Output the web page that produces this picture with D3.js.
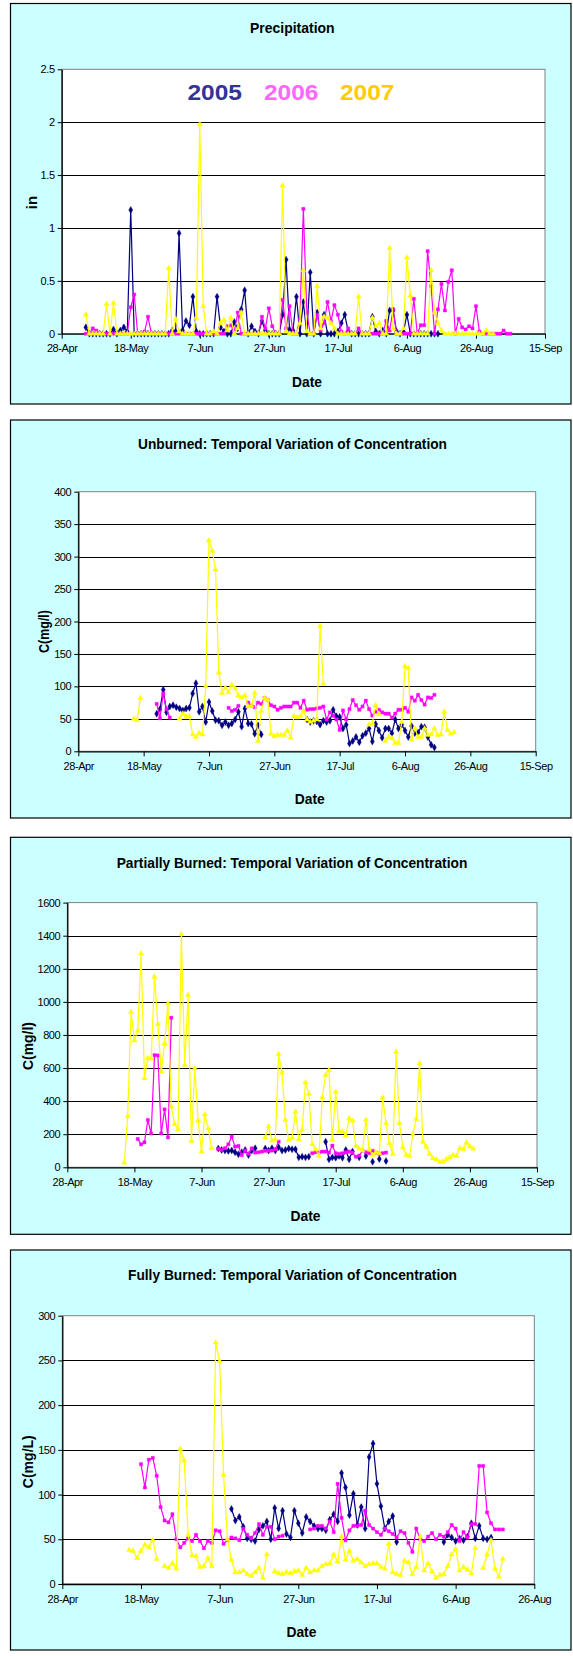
<!DOCTYPE html>
<html><head><meta charset="utf-8">
<script src="https://cdn.jsdelivr.net/npm/d3@7/dist/d3.min.js"></script>
<style>
html,body{margin:0;padding:0;background:#fff;}
svg{display:block;}
text{font-family:"Liberation Sans",Arial,sans-serif;}
</style></head>
<body><svg id="c" width="573" height="1656"></svg>
<script>
// ---------------- DATA ----------------
const YEAR = 2007; // reference year for the month/day axis
const xTickLabels = ["28-Apr","18-May","7-Jun","27-Jun","17-Jul","6-Aug","26-Aug","15-Sep"];
const xTickLabelsFull = ["28-Apr","18-May","7-Jun","27-Jun","17-Jul","6-Aug","26-Aug"];
const seriesNames = ["2005","2006","2007"];

// Precipitation (in), daily
const precipYTicks = [0,0.5,1,1.5,2,2.5];
const precip2005Start = "5-May";
const precip2005 = [
 .06,0,0,0,0,0,0,0,.04,0,
 .03,.06,.02,1.17,0,0,0,0,0,0,
 0,0,0,0,0,.03,.02,.95,.03,.12,
 .08,.35,.02,0,0,0,0,0,.35,.06,
 .02,0,0,.11,.05,.23,.41,0,.07,.02,
 0,.12,.03,0,0,0,0,.18,.70,.04,
 .03,.35,0,.30,0,.58,0,.20,0,.18,
 0,0,0,.02,.10,.18,.02,0,0,0,
 0,0,0,.16,.02,0,.03,0,.22,.22,
 .02,0,.02,.18,0,0,0,0,0,0,
 0,0,0];
const precip2006Start = "5-May";
const precip2006 = [
 0,0,.05,.03,0,0,0,0,0,0,
 0,0,0,.25,.37,0,0,.02,.16,0,
 0,0,0,0,0,0,0,0,0,0,
 0,0,0,0,0,0,0,0,0,0,
 0,.07,.08,.02,.20,0,0,0,0,0,
 0,.16,.05,.24,.07,0,0,.32,.05,.26,
 0,0,.14,1.18,.20,0,0,.18,.03,.10,
 .30,.12,.27,.18,.02,0,.05,0,0,.05,
 0,0,0,0,0,0,0,.12,.03,.23,
 0,0,0,0,0,.33,0,.08,.08,.78,
 .45,0,.23,.47,.22,.49,.60,0,.14,.06,
 .04,.07,.05,.26,.02,0,0,0,0,0,
 0,.03,0,0];
const precip2007Start = "5-May";
const precip2007 = [
 .18,0,0,0,0,0,.28,0,.29,0,
 0,0,0,0,0,0,0,0,0,0,
 0,0,0,0,.62,0,.14,.02,0,0,
 0,0,.15,1.98,.26,0,0,.02,0,.10,
 .13,.03,.15,0,.05,.20,0,0,0,0,
 0,0,0,0,0,0,0,1.40,.02,0,
 0,0,.10,.60,.02,0,0,.45,.05,.16,
 .15,.10,.05,0,0,0,0,0,0,.35,
 0,0,0,.15,.07,.10,0,0,.81,.05,
 0,0,.05,.72,.36,0,0,0,0,0,
 .60,.20,.10,.03,0,0,0,0,0,0,
 0,0,0,0,0,0,.03,0,0];

// Unburned concentration (mg/l)
const unbYTicks = [0,50,100,150,200,250,300,350,400];
const unb2005Start = "22-May";
const unb2005 = [
 58,65,95,60,69,71,68,66,63,66,
 67,89,105,61,69,45,76,62,48,47,
 40,45,40,43,49,61,38,66,43,42,
 27,40,26,null,null,null,null,null,null,null,
 null,null,null,null,null,null,49,45,47,46,
 41,47,45,47,64,54,53,35,41,12,
 16,22,14,24,28,35,15,42,32,21,
 35,35,28,49,35,41,32,22,39,28,
 29,38,37,22,10,6];
const unb2006Start = "22-May";
const unb2006 = [
 73,51,89,65,52,null,null,null,null,null,
 null,null,null,null,null,null,null,null,null,null,
 null,null,67,62,64,70,null,null,75,70,
 68,75,73,82,79,71,69,64,67,69,
 69,69,75,75,67,78,64,65,65,66,
 67,69,49,60,55,49,33,63,49,65,
 79,71,64,69,78,65,55,61,64,60,
 58,58,52,58,64,64,67,61,83,78,
 87,79,72,83,82,87];
const unb2007Start = "15-May";
const unb2007 = [
 50,48,82,null,null,null,null,null,null,null,
 null,null,null,null,50,58,53,54,26,22,
 28,26,100,325,309,280,121,90,98,91,
 102,97,86,83,86,69,70,90,16,62,
 82,79,27,23,25,25,25,32,21,54,
 52,54,62,49,45,47,49,193,104,null,
 null,null,null,null,null,null,null,null,null,null,
 null,null,41,43,71,57,null,16,22,20,
 13,13,45,131,128,18,35,22,22,35,
 25,26,35,25,26,61,33,27,29];

// Partially burned concentration (mg/l)
const partYTicks = [0,200,400,600,800,1000,1200,1400,1600];
const part2005Start = "12-Jun";
const part2005 = [
 113,105,101,99,101,91,79,91,105,74,
 101,115,null,null,113,101,115,101,121,101,
 105,113,109,109,60,64,60,64,null,null,
 null,null,155,48,60,58,68,58,105,48,
 95,null,60,null,68,null,34,null,50,null,
 38];
const part2006Start = "19-May";
const part2006 = [
 171,139,151,286,205,678,676,205,350,181,
 904,null,null,null,null,null,null,null,null,null,
 null,null,null,null,111,105,115,139,185,125,
 129,74,101,81,115,89,91,95,100,100,
 101,109,155,null,null,null,null,null,null,null,
 null,null,85,91,91,95,95,89,131,85,
 81,85,91,95,89,64,70,101,91,85,
 99,89,81,85,89];
const part2007Start = "15-May";
const part2007 = [
 28,308,938,767,825,1292,537,660,656,1151,
 865,578,749,990,366,262,229,1409,618,1041,
 159,598,282,95,320,235,115,null,null,null,
 null,null,null,null,null,null,null,null,null,null,
 null,null,181,246,161,169,684,572,286,165,
 179,336,170,225,513,445,139,109,68,423,
 558,588,165,457,219,215,191,296,282,129,
 113,101,286,109,74,91,85,421,266,145,
 81,698,266,121,74,68,199,292,628,155,
 125,81,54,48,32,34,48,60,74,68,
 115,109,149,125,113];

// Fully burned concentration (mg/L)
const fullYTicks = [0,50,100,150,200,250,300];
const full2005Start = "10-Jun";
const full2005 = [
 84,71,75,64,51,50,48,61,65,70,
 50,85,62,82,56,52,82,68,57,75,
 70,65,62,62,60,72,78,70,124,108,
 77,101,66,86,62,142,157,112,87,62,
 70,76,47,null,null,null,null,null,null,null,
 null,null,null,null,47,55,52,48,51,49,
 53,68,51,65,51,50,52];
const full2006Start = "18-May";
const full2006 = [
 134,108,139,141,121,86,71,69,78,50,
 41,46,51,48,55,48,40,48,46,60,
 59,45,49,52,51,49,62,55,51,57,
 67,55,64,64,50,53,54,null,null,null,
 null,null,null,61,62,65,65,62,70,58,
 112,74,49,60,65,65,66,82,66,62,
 58,55,62,59,56,52,59,57,46,36,
 62,50,48,53,57,50,55,53,58,66,
 62,48,58,52,67,67,132,132,80,68,
 61,61,61];
const full2007Start = "15-May";
const full2007 = [
 38,37,29,37,44,41,49,28,null,20,
 18,23,17,151,138,55,32,31,19,20,
 29,20,270,249,122,50,27,13,13,15,
 11,9,13,18,7,33,null,14,12,11,
 13,12,14,15,10,18,13,15,15,20,
 22,23,33,25,53,27,37,26,28,24,
 20,22,23,23,19,17,45,13,11,10,
 26,24,11,19,53,15,23,14,7,10,
 11,20,33,39,15,19,16,12,40,null,
 18,33,49,17,8,28];

// ---------------- DRAWING ----------------
const parseDay = d3.timeParse("%d-%b-%Y");
const toDate = s => parseDay(s + "-" + YEAR);
const lineColors = ["#000080","#FF00FF","#FFFF00"];
const markerShapes = [d3.symbolDiamond, d3.symbolSquare, d3.symbolTriangle];
const markerSizes = [14, 10, 12];

function series(start, vals){
  const s = toDate(start);
  return vals.map((v,i)=>({date:d3.timeDay.offset(s,i), v:v}));
}

const svg = d3.select("#c");

function panel(cfg){
  const g = svg.append("g");
  const [fx0,fy0,fx1,fy1] = cfg.frame;
  g.append("rect").attr("x",fx0).attr("y",fy0).attr("width",fx1-fx0).attr("height",fy1-fy0)
    .attr("fill","#CCFFFF").attr("stroke","#000").attr("stroke-width",1.2);
  const [px0,py0,px1,py1] = cfg.plot;
  const x = d3.scaleTime().domain([toDate(cfg.xLabels[0]), toDate(cfg.xLabels[cfg.xLabels.length-1])]).range([px0,px1]);
  const y = d3.scaleLinear().domain([0, d3.max(cfg.yTicks)]).range([py1,py0]);
  g.append("rect").attr("x",px0).attr("y",py0).attr("width",px1-px0).attr("height",py1-py0)
    .attr("fill","#fff").attr("stroke","#808080").attr("stroke-width",1);
  // gridlines
  g.append("g").selectAll("line").data(cfg.yTicks.filter(t=>t>0 && t<d3.max(cfg.yTicks))).join("line")
    .attr("x1",px0).attr("x2",px1).attr("y1",d=>Math.round(y(d))+0.5).attr("y2",d=>Math.round(y(d))+0.5)
    .attr("stroke","#000").attr("stroke-width",1);
  // axes
  const yAxis = d3.axisLeft(y).tickValues(cfg.yTicks).tickSize(4).tickSizeOuter(0).tickPadding(3)
    .tickFormat(d3.format(cfg.yFmt));
  const ya = g.append("g").attr("transform",`translate(${px0},0)`).call(yAxis);
  const xAxis = d3.axisBottom(x).tickValues(cfg.xLabels.map(toDate)).tickSize(5).tickSizeOuter(0).tickPadding(6)
    .tickFormat((d,i)=>cfg.xLabels[i]);
  const xa = g.append("g").attr("transform",`translate(0,${py1})`).call(xAxis);
  [ya,xa].forEach(a=>{
    a.select(".domain").attr("stroke","#000").attr("stroke-width",1.3);
    a.selectAll(".tick line").attr("stroke","#000");
    a.selectAll(".tick text").attr("font-size",11).attr("fill","#000")
      .attr("font-family","Liberation Sans, Arial, sans-serif").attr("letter-spacing","-0.4px");
  });
  xa.selectAll(".tick text").attr("dy","0.71em");
  // series
  cfg.series.forEach((s,k)=>{
    const pts = series(s.start, s.values);
    const line = d3.line().defined(d=>d.v!=null).x(d=>x(d.date)).y(d=>y(d.v));
    g.append("path").datum(pts).attr("d",line).attr("fill","none")
      .attr("stroke",lineColors[k]).attr("stroke-width",1.2).attr("stroke-linejoin","round");
    g.append("g").selectAll("path").data(pts.filter(d=>d.v!=null)).join("path")
      .attr("transform",d=>`translate(${x(d.date)},${y(d.v)})`)
      .attr("d",d3.symbol().type(markerShapes[k]).size(markerSizes[k])())
      .attr("fill",lineColors[k]).attr("stroke",lineColors[k]).attr("stroke-width",0.4);
  });
  // titles
  g.append("text").attr("x",cfg.titleX).attr("y",cfg.titleY).attr("text-anchor","middle")
    .attr("font-size",15).attr("font-weight","bold").attr("textLength",cfg.titleW)
    .attr("lengthAdjust","spacingAndGlyphs").text(cfg.title);
  g.append("text").attr("x",cfg.dateX).attr("y",cfg.dateY).attr("text-anchor","middle")
    .attr("font-size",15.5).attr("font-weight","bold").attr("textLength",30)
    .attr("lengthAdjust","spacingAndGlyphs").text("Date");
  const yl = g.append("text").attr("transform",`translate(${cfg.yLabX},${cfg.yLabY}) rotate(-90)`)
    .attr("text-anchor","middle").attr("font-size",15).attr("font-weight","bold").text(cfg.yLabel);
  if(cfg.yLabW) yl.attr("textLength",cfg.yLabW).attr("lengthAdjust","spacingAndGlyphs");
  return g;
}

const p1 = panel({frame:[10.5,3.5,571,404], plot:[61.7,69.3,545,333.7], xLabels:xTickLabels,
  yTicks:precipYTicks, yFmt:"~g", title:"Precipitation", titleX:292.3, titleY:32.7, titleW:84.6,
  dateX:307, dateY:386.7, yLabel:"in", yLabX:36.5, yLabY:202.5, yLabW:null,
  series:[{start:precip2005Start,values:precip2005},{start:precip2006Start,values:precip2006},{start:precip2007Start,values:precip2007}]});

// legend text (years) in precipitation chart
const legendColors = ["#333399","#FF66FF","#FFCC00"];
const legendX = [187.5,264,340];
seriesNames.forEach((n,i)=>{
  p1.append("text").attr("x",legendX[i]).attr("y",100).attr("font-family","DejaVu Sans, Verdana, sans-serif")
    .attr("font-weight","bold").attr("font-size",22).attr("fill",legendColors[i])
    .attr("textLength",54.5).attr("lengthAdjust","spacingAndGlyphs").text(n);
});

panel({frame:[10.5,420,571,818], plot:[78.3,491.7,535.7,751.3], xLabels:xTickLabels,
  yTicks:unbYTicks, yFmt:"d", title:"Unburned: Temporal Variation of Concentration", titleX:292.5, titleY:449.3, titleW:309,
  dateX:309.8, dateY:804, yLabel:"C(mg/l)", yLabX:48.5, yLabY:631.5, yLabW:43,
  series:[{start:unb2005Start,values:unb2005},{start:unb2006Start,values:unb2006},{start:unb2007Start,values:unb2007}]});

panel({frame:[10.5,837.3,571,1234.3], plot:[67.3,902.6,537,1167.3], xLabels:xTickLabels,
  yTicks:partYTicks, yFmt:"d", title:"Partially Burned: Temporal Variation of Concentration", titleX:292, titleY:867.7, titleW:350.6,
  dateX:305.5, dateY:1220.7, yLabel:"C(mg/l)", yLabX:32.5, yLabY:1046, yLabW:48,
  series:[{start:part2005Start,values:part2005},{start:part2006Start,values:part2006},{start:part2007Start,values:part2007}]});

panel({frame:[10.5,1250,571,1650], plot:[62.3,1315.7,534.3,1584], xLabels:xTickLabelsFull,
  yTicks:fullYTicks, yFmt:"d", title:"Fully Burned: Temporal Variation of Concentration", titleX:292.5, titleY:1280, titleW:329,
  dateX:301.4, dateY:1636.7, yLabel:"C(mg/L)", yLabX:33, yLabY:1461.7, yLabW:53,
  series:[{start:full2005Start,values:full2005},{start:full2006Start,values:full2006},{start:full2007Start,values:full2007}]});
</script></body></html>
